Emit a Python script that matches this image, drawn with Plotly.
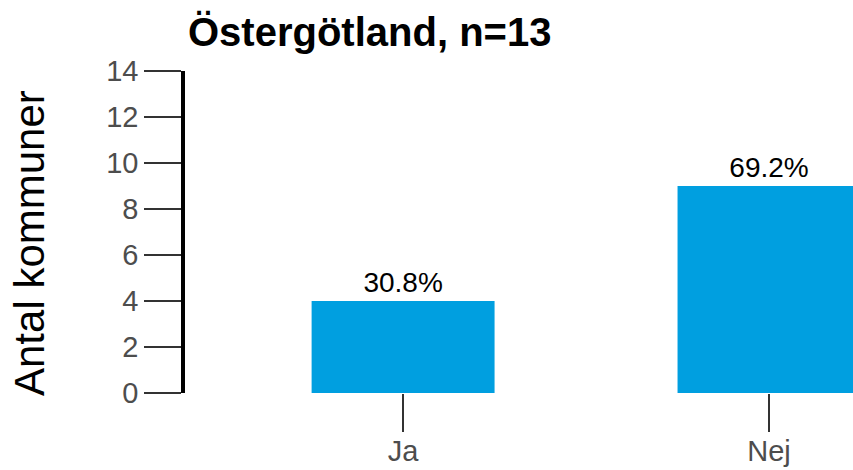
import plotly.graph_objects as go

categories = ["Ja", "Nej"]
counts = [4, 9]
pct_labels = ["30.8%", "69.2%"]
y_ticks = [0, 2, 4, 6, 8, 10, 12, 14]

title_text = "Östergötland, n=13"
y_title = "Antal kommuner"

FONT = "Liberation Sans, Arial, sans-serif"
W, H = 853, 470
L, R, T, B = 185, 0, 71, 77

fig = go.Figure(
    go.Bar(
        x=categories,
        y=counts,
        text=pct_labels,
        textposition="outside",
        textfont=dict(family=FONT, size=28, color="#000000"),
        marker=dict(color="#009fe0", line=dict(width=0)),
        width=0.5,
        cliponaxis=False,
    )
)

fig.update_layout(
    width=W,
    height=H,
    margin=dict(l=L, r=R, t=T, b=B, autoexpand=False),
    paper_bgcolor="white",
    plot_bgcolor="white",
    showlegend=False,
    font=dict(family=FONT),
    title=dict(
        text=title_text,
        font=dict(family=FONT, size=40, color="#000000", weight="bold"),
        xref="container",
        x=188 / W,
        xanchor="left",
        yref="container",
        y=1 - 32 / H,
        yanchor="middle",
    ),
    annotations=[
        dict(
            text=y_title,
            xref="paper",
            yref="paper",
            x=0,
            xshift=-156,
            y=(393 - 243) / 322,
            xanchor="center",
            yanchor="middle",
            textangle=-90,
            showarrow=False,
            font=dict(family=FONT, size=42, color="#000000"),
        )
    ],
)

fig.update_xaxes(
    type="category",
    range=[-0.596, 1.2295],
    automargin=False,
    showgrid=False,
    zeroline=False,
    showline=False,
    ticks="outside",
    ticklen=38,
    tickwidth=2,
    tickcolor="#333333",
    ticklabelstandoff=-6,
    tickfont=dict(family=FONT, size=29, color="#4d4d4d"),
)

fig.update_yaxes(
    range=[0, 14],
    tickvals=y_ticks,
    automargin=False,
    showgrid=False,
    zeroline=False,
    showline=True,
    linewidth=3.5,
    linecolor="#000000",
    ticks="outside",
    ticklen=37,
    tickwidth=2,
    tickcolor="#333333",
    tickfont=dict(family=FONT, size=29, color="#4d4d4d"),
)

fig.write_html(
    "out.html",
    config={"displayModeBar": False},
    post_script="document.body.style.margin='0px';document.body.style.padding='0px';",
)
